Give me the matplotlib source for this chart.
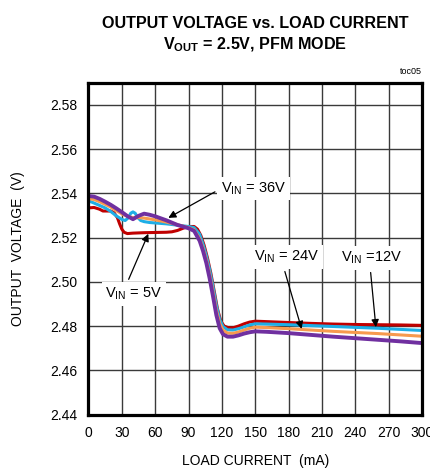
import matplotlib
matplotlib.use("Agg")
import matplotlib.pyplot as plt
from matplotlib import font_manager

names = {f.name for f in font_manager.fontManager.ttflist}
FONT = "Liberation Sans Narrow" if "Liberation Sans Narrow" in names else "Liberation Sans"

plt.rcParams["font.family"] = [FONT, "DejaVu Sans"]
plt.rcParams["mathtext.fontset"] = "custom"
plt.rcParams["mathtext.rm"] = FONT
plt.rcParams["mathtext.it"] = FONT
plt.rcParams["mathtext.bf"] = FONT + ":bold"

# ---- data ----
X_PURPLE = [0, 5, 10, 15, 20, 25, 30, 35, 40, 45, 50, 55, 60, 70, 80, 90, 95,
            100, 103, 106, 109, 112, 115, 118, 121, 125, 130, 135, 140, 145, 150,
            160, 180, 200, 220, 240, 260, 280, 300]
V_PURPLE = [2.5388, 2.5385, 2.5375, 2.5362, 2.5348, 2.5332, 2.5315, 2.5297, 2.5283,
            2.5298, 2.5308, 2.5303, 2.5296, 2.5278, 2.5257, 2.5242, 2.5230,
            2.5185, 2.5140, 2.5085, 2.5015, 2.4935, 2.4850, 2.4790, 2.4763, 2.4752,
            2.4752, 2.4758, 2.4766, 2.4772, 2.4776,
            2.4774, 2.4768, 2.4760, 2.4752, 2.4745, 2.4738, 2.4731, 2.4723]

X_ORANGE = [0, 5, 10, 15, 20, 25, 30, 35, 40, 45, 50, 55, 60, 70, 80, 90, 95,
            100, 103, 106, 109, 112, 115, 118, 121, 125, 130, 135, 140, 145, 150,
            160, 180, 200, 220, 240, 260, 280, 300]
V_ORANGE = [2.5376, 2.5372, 2.5362, 2.5350, 2.5338, 2.5322, 2.5307, 2.5296, 2.5290,
            2.5290, 2.5288, 2.5284, 2.5280, 2.5270, 2.5258, 2.5245, 2.5235,
            2.5195, 2.5152, 2.5100, 2.5033, 2.4955, 2.4872, 2.4812, 2.4782, 2.4768,
            2.4767, 2.4773, 2.4782, 2.4790, 2.4795,
            2.4793, 2.4788, 2.4782, 2.4776, 2.4771, 2.4766, 2.4760, 2.4754]

X_CYAN = [0, 5, 10, 15, 20, 25, 30, 33, 36, 38, 40, 42, 44, 47, 50, 55, 60, 70, 80,
          90, 95, 100, 103, 106, 109, 112, 115, 118, 121, 125, 130, 135, 140, 145,
          150, 160, 180, 200, 220, 240, 260, 280, 300]
V_CYAN = [2.5366, 2.5356, 2.5345, 2.5334, 2.5318, 2.5298, 2.5282, 2.5277, 2.5290,
          2.5310, 2.5316, 2.5310, 2.5292, 2.5277, 2.5272, 2.5268, 2.5266, 2.5262,
          2.5256, 2.5250, 2.5245, 2.5215, 2.5170, 2.5118, 2.5055, 2.4978, 2.4895,
          2.4830, 2.4798, 2.4783, 2.4782, 2.4788, 2.4796, 2.4805, 2.4810,
          2.4809, 2.4806, 2.4802, 2.4798, 2.4794, 2.4790, 2.4785, 2.4780]

X_RED = [0, 5, 10, 13, 17, 20, 23, 26, 28, 30, 32, 35, 40, 50, 60, 70, 75, 80, 85,
         90, 95, 98, 101, 104, 107, 110, 113, 116, 119, 122, 126, 130, 135, 140,
         145, 150, 160, 180, 200, 220, 240, 260, 280, 300]
V_RED = [2.5334, 2.5336, 2.5328, 2.5320, 2.5320, 2.5320, 2.5312, 2.5290, 2.5262,
         2.5238, 2.5224, 2.5218, 2.5220, 2.5222, 2.5223, 2.5224, 2.5226, 2.5232,
         2.5242, 2.5250, 2.5250, 2.5238, 2.5210, 2.5165, 2.5108, 2.5040, 2.4960,
         2.4878, 2.4822, 2.4800, 2.4792, 2.4792, 2.4800, 2.4810, 2.4818, 2.4822,
         2.4820, 2.4816, 2.4812, 2.4809, 2.4807, 2.4806, 2.4805, 2.4803]

X_TICKS = list(range(0, 301, 30))
Y_TICKS = [2.44, 2.46, 2.48, 2.50, 2.52, 2.54, 2.56, 2.58]

# label text, text position, arrow target, arrow start on the box
LABELS = [
    (r"V$_{\rm IN}$ = 36V", (148.5, 2.5422), (71.8, 2.5289), (0.0, 0.5)),
    (r"V$_{\rm IN}$ = 5V", (40.9, 2.4946), (53.8, 2.5217), (0.36, 1.0)),
    (r"V$_{\rm IN}$ = 24V", (178.5, 2.5112), (191.7, 2.4787), (0.44, 0.0)),
    (r"V$_{\rm IN}$ =12V", (254.9, 2.5108), (258.5, 2.4795), (0.47, 0.0)),
]


def main():
    fig = plt.figure(figsize=(4.30, 4.71), dpi=100)
    ax = fig.add_axes([0.2058, 0.1199, 0.7756, 0.7045])

    ax.plot(X_RED, V_RED, color="#C00000", lw=2.2, zorder=3)
    ax.plot(X_CYAN, V_CYAN, color="#1EAEE6", lw=2.2, zorder=4)
    ax.plot(X_ORANGE, V_ORANGE, color="#F79A4E", lw=2.2, zorder=5)
    ax.plot(X_PURPLE, V_PURPLE, color="#7030A0", lw=2.8, zorder=6)

    ax.set_xlim(0, 300)
    ax.set_ylim(2.44, 2.59)
    ax.set_xticks(X_TICKS)
    ax.set_yticks(Y_TICKS)
    ax.set_yticklabels([f"{v:.2f}" for v in Y_TICKS])
    ax.tick_params(length=0, labelsize=10, pad=8)
    ax.grid(True, color="#3a3a3a", lw=1.0, zorder=1)
    for spine in ax.spines.values():
        spine.set_linewidth(2.3)
        spine.set_color("black")
        spine.set_zorder(10)

    ax.set_xlabel("LOAD CURRENT  (mA)", fontsize=10, labelpad=10)
    ax.set_ylabel("OUTPUT  VOLTAGE  (V)", fontsize=10, labelpad=18)

    for text, xy_text, xy_head, rel in LABELS:
        ax.annotate(
            text,
            xy=xy_head,
            xytext=xy_text,
            ha="center",
            va="center",
            fontsize=10.5,
            zorder=8,
            bbox=dict(boxstyle="square,pad=0.25", fc="white", ec="none"),
            arrowprops=dict(arrowstyle="-|>", color="black", lw=0.9,
                            mutation_scale=11, relpos=rel, shrinkA=2, shrinkB=0),
        )

    fig.text(0.593, 0.951, "OUTPUT VOLTAGE vs. LOAD CURRENT",
             ha="center", va="center", fontsize=11.6, weight="bold")
    fig.text(0.593, 0.905, r"$\mathbf{V_{OUT}}$ = 2.5V, PFM MODE",
             ha="center", va="center", fontsize=11.6, weight="bold")
    fig.text(0.981, 0.838, "toc05", ha="right", va="bottom", fontsize=6.5)

    fig.savefig("out.png", dpi=100)
    plt.close(fig)


if __name__ == "__main__":
    main()
